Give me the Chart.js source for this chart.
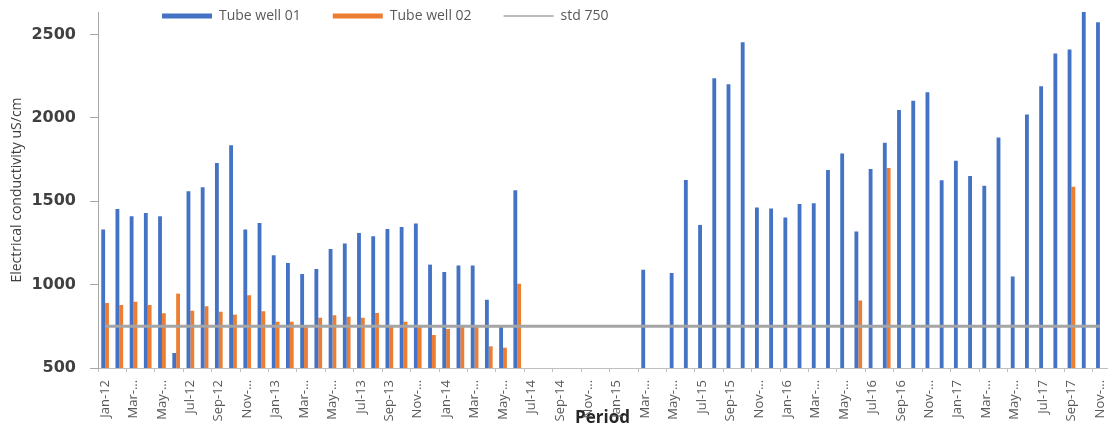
<!DOCTYPE html>
<html>
<head>
<meta charset="utf-8">
<title>Electrical conductivity</title>
<script src="https://cdn.jsdelivr.net/npm/chart.js@4/dist/chart.umd.min.js"></script>
<style>
    html, body { margin: 0; padding: 0; background: #ffffff; }
    #wrap { width: 1109px; height: 428px; }
</style>
</head>
<body>
<div id="wrap"><canvas id="ecChart" width="1109" height="428"></canvas></div>
<script>
// Months Jan-12 .. Nov-17
const periods = [
    'Jan-12', 'Feb-12', 'Mar-12', 'Apr-12', 'May-12', 'Jun-12', 'Jul-12', 'Aug-12', 'Sep-12', 'Oct-12', 'Nov-12', 'Dec-12',
    'Jan-13', 'Feb-13', 'Mar-13', 'Apr-13', 'May-13', 'Jun-13', 'Jul-13', 'Aug-13', 'Sep-13', 'Oct-13', 'Nov-13', 'Dec-13',
    'Jan-14', 'Feb-14', 'Mar-14', 'Apr-14', 'May-14', 'Jun-14', 'Jul-14', 'Aug-14', 'Sep-14', 'Oct-14', 'Nov-14', 'Dec-14',
    'Jan-15', 'Feb-15', 'Mar-15', 'Apr-15', 'May-15', 'Jun-15', 'Jul-15', 'Aug-15', 'Sep-15', 'Oct-15', 'Nov-15', 'Dec-15',
    'Jan-16', 'Feb-16', 'Mar-16', 'Apr-16', 'May-16', 'Jun-16', 'Jul-16', 'Aug-16', 'Sep-16', 'Oct-16', 'Nov-16', 'Dec-16',
    'Jan-17', 'Feb-17', 'Mar-17', 'Apr-17', 'May-17', 'Jun-17', 'Jul-17', 'Aug-17', 'Sep-17', 'Oct-17', 'Nov-17'
];

// Labels printed under every second month (as they appear on the axis)
const tickLabels = [
    'Jan-12', 'Mar-…', 'May-…', 'Jul-12', 'Sep-12', 'Nov-…',
    'Jan-13', 'Mar-…', 'May-…', 'Jul-13', 'Sep-13', 'Nov-…',
    'Jan-14', 'Mar-…', 'May-…', 'Jul-14', 'Sep-14', 'Nov-…',
    'Jan-15', 'Mar-…', 'May-…', 'Jul-15', 'Sep-15', 'Nov-…',
    'Jan-16', 'Mar-…', 'May-…', 'Jul-16', 'Sep-16', 'Nov-…',
    'Jan-17', 'Mar-…', 'May-…', 'Jul-17', 'Sep-17', 'Nov-…'
];

const tubeWell01 = [
    1330, 1454, 1410, 1430, 1410, 590, 1560, 1584, 1730, 1836, 1330, 1370,
    1176, 1130, 1064, 1094, 1214, 1246, 1310, 1290, 1334, 1346, 1366, 1120,
    1076, 1114, 1114, 910, 746, 1566, null, null, null, null, null, null,
    null, null, 1089, null, 1069, 1628, 1358, 2237, 2202, 2454, 1462, 1456,
    1402, 1484, 1488, 1687, 1787, 1318, 1693, 1851, 2047, 2102, 2153, 1626,
    1743, 1651, 1593, 1883, 1049, 2021, 2190, 2386, 2410, 2650, 2574
];

const tubeWell02 = [
    890, 878, 898, 878, 828, 946, 844, 870, 838, 820, 936, 840,
    778, 778, 745, 802, 816, 808, 802, 830, 755, 778, 752, 698,
    734, 745, 745, 630, 622, 1006, null, null, null, null, null, null,
    null, null, null, null, null, null, null, null, null, null, null, null,
    null, null, null, null, null, 905, null, 1700, null, null, null, null,
    null, null, null, null, null, null, null, null, 1587, null, null
];

const stdLimit = periods.map(() => 750);

const yTicks = [500, 1000, 1500, 2000, 2500];

// Legend is laid out in one row inside the plot, left of centre
const legendPlace = {
    id: 'legendPlace',
    beforeLayout(chart) {
        chart.legend.isHorizontal = () => true;
    },
    afterLayout(chart) {
        const lg = chart.legend;
        const pad = lg.options.labels.padding;
        lg.left = 162 - pad;
        lg.top = 9 - pad;
    }
};

// no extra room for half tick labels, plot box is fixed
function noScalePadding(scale) {
    scale.paddingTop = 0;
    scale.paddingBottom = 0;
    scale.paddingLeft = 0;
    scale.paddingRight = 0;
}

const ctx = document.getElementById('ecChart');
new Chart(ctx, {
    type: 'bar',
    data: {
        labels: periods,
        datasets: [
            {
                label: 'Tube well 01',
                data: tubeWell01,
                backgroundColor: '#4472C4',
                pointStyle: 'rect',
                order: 1
            },
            {
                label: 'Tube well 02',
                data: tubeWell02,
                backgroundColor: '#ED7D31',
                pointStyle: 'rect',
                order: 1
            },
            {
                type: 'line',
                label: 'std 750',
                data: stdLimit,
                borderColor: '#A5A5A5',
                backgroundColor: '#A5A5A5',
                borderWidth: 3,
                pointRadius: 0,
                pointStyle: 'line',
                order: 0
            }
        ]
    },
    options: {
        responsive: false,
        animation: false,
        layout: { padding: { left: 0, right: 2, top: 12, bottom: 0 } },
        datasets: {
            bar: { categoryPercentage: 0.54, barPercentage: 1.0 }
        },
        plugins: {
            tooltip: { enabled: false },
            legend: {
                position: 'chartArea',
                align: 'start',
                labels: {
                    usePointStyle: true,
                    pointStyleWidth: 50,
                    boxHeight: 5,
                    padding: 32,
                    color: '#595959',
                    font: { family: 'Open Sans', size: 14 },
                    sort: (a, b) => a.datasetIndex - b.datasetIndex,
                    generateLabels(chart) {
                        const items = Chart.defaults.plugins.legend.labels.generateLabels(chart);
                        items.forEach(it => { if (it.pointStyle === 'line') it.lineWidth = 1.5; });
                        return items;
                    }
                }
            }
        },
        scales: {
            x: {
                afterFit(scale) {
                    scale.height = 60;
                    noScalePadding(scale);
                },
                border: { color: '#BFBFBF', width: 1 },
                grid: {
                    drawOnChartArea: false,
                    tickLength: 4,
                    tickColor: (c) => (c.index % 2 === 0 ? '#BFBFBF' : 'rgba(0,0,0,0)')
                },
                ticks: {
                    autoSkip: false,
                    minRotation: 90,
                    maxRotation: 90,
                    padding: 8,
                    color: '#595959',
                    font: { family: 'Open Sans', size: 13 },
                    callback: (value, index) => (index % 2 === 0 ? tickLabels[index / 2] : '')
                },
                title: {
                    display: true,
                    text: 'Period',
                    color: '#262626',
                    padding: { top: 0, bottom: 0 },
                    font: { family: 'Open Sans', size: 17, weight: 'bold' }
                }
            },
            y: {
                min: 500,
                max: 2635,
                afterFit(scale) {
                    scale.width = 98;
                    noScalePadding(scale);
                },
                afterBuildTicks(scale) {
                    scale.ticks = yTicks.map(v => ({ value: v }));
                },
                border: { color: '#A6A6A6', width: 1 },
                grid: {
                    drawOnChartArea: false,
                    tickLength: 8,
                    tickColor: '#A6A6A6'
                },
                ticks: {
                    padding: 14,
                    color: '#404040',
                    font: { family: 'DejaVu Sans', size: 16, weight: 'bold' },
                    callback: (value) => String(value)
                },
                title: {
                    display: true,
                    text: 'Electrical conductivity uS/cm',
                    color: '#404040',
                    padding: { top: 9, bottom: 0 },
                    font: { family: 'Open Sans', size: 14 }
                }
            }
        }
    },
    plugins: [legendPlace]
});
</script>
</body>
</html>
